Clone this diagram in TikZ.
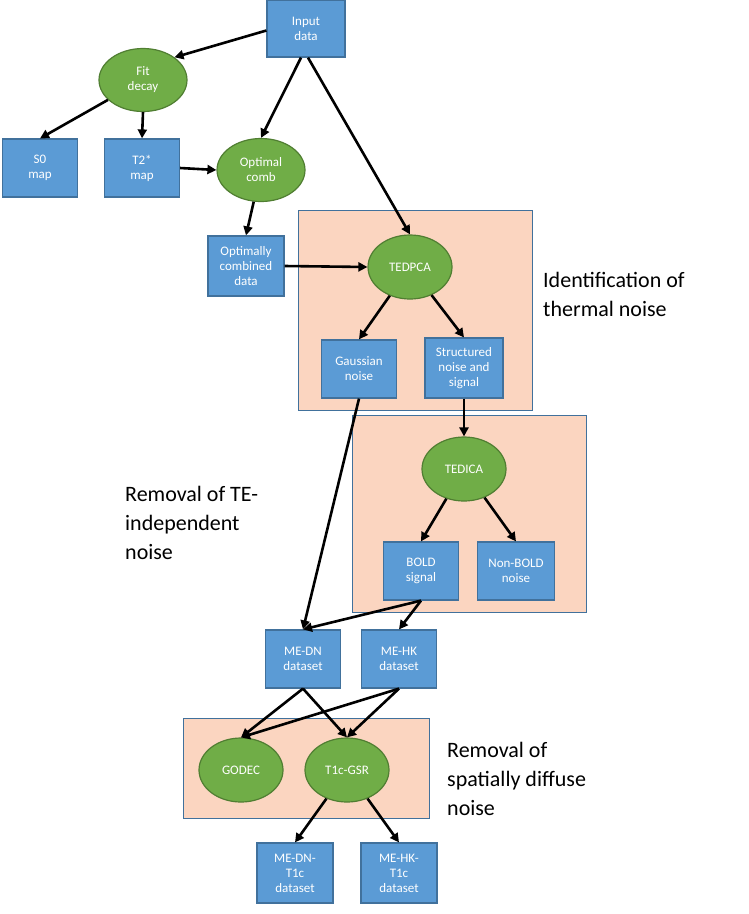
\documentclass[tikz,border=0pt]{standalone}
\usepackage{fontspec}
\setmainfont{Carlito}
\usetikzlibrary{shapes.geometric,arrows.meta}
\definecolor{bx}{HTML}{5B9BD5}
\definecolor{bxd}{HTML}{41719C}
\definecolor{gr}{HTML}{70AD47}
\definecolor{grd}{HTML}{507E32}
\definecolor{pe}{HTML}{FBD5C0}
\tikzset{
 box/.style={draw=bxd,fill=bx,line width=1.2pt,minimum width=75pt,minimum height=58pt,text=white,align=center,font=\fontsize{13}{15}\selectfont,inner sep=1pt},
 ell/.style={ellipse,draw=grd,fill=gr,line width=1.2pt,minimum width=88pt,minimum height=63pt,text=white,align=center,font=\fontsize{13}{15}\selectfont,inner sep=0pt},
 reg/.style={draw=bxd,fill=pe,line width=1pt},
 arr/.style={-{Triangle[length=9pt,width=9pt]},line width=2.6pt,black},
 lab/.style={align=left,anchor=north west,font=\fontsize{22}{29}\selectfont,inner sep=0pt}
}
\begin{document}
\begin{tikzpicture}[x=1pt,y=-1pt]
\useasboundingbox (0,0) rectangle (749,914);
\draw[reg] (298,210) rectangle (532,410);
\draw[reg] (352,415) rectangle (586,612);
\draw[reg] (183,718) rectangle (429,818);
\node[box,minimum width=78pt,minimum height=57pt] (in) at (306,28.5) {Input\\data};
\node[ell] (fit) at (143,80) {Fit\\decay};
\node[box] (s0) at (40,168) {S0\\map};
\node[box] (t2) at (142,168) {T2*\\map};
\node[ell] (oc) at (261,170) {Optimal\\comb};
\node[box,minimum width=76pt,minimum height=60pt] (ocd) at (246,266) {Optimally\\combined\\data};
\node[ell,minimum width=84pt,minimum height=64pt] (pca) at (410,267) {TEDPCA};
\node[box] (gn) at (359,369) {Gaussian\\noise};
\node[box,minimum width=78pt,minimum height=60pt] (sn) at (464,368) {Structured\\noise and\\signal};
\node[ell,minimum width=84pt,minimum height=64pt] (ica) at (464,469) {TEDICA};
\node[box] (bold) at (421,571) {BOLD\\signal};
\node[box,minimum width=77pt] (nb) at (516,571) {Non-BOLD\\noise};
\node[box] (dn) at (303,659) {ME-DN\\dataset};
\node[box] (hk) at (399,659) {ME-HK\\dataset};
\node[ell,minimum width=84pt,minimum height=64pt] (god) at (241,770) {GODEC};
\node[ell,minimum width=84pt,minimum height=64pt] (gsr) at (347,770) {T1c-GSR};
\node[box,minimum width=76pt,minimum height=60pt] (dnt) at (295,873) {ME-DN-\\T1c\\dataset};
\node[box,minimum width=76pt,minimum height=60pt] (hkt) at (399,873) {ME-HK-\\T1c\\dataset};
\node[lab] (l1) at (543,272) {Identification of\\thermal noise};
\node[lab] (l2) at (125,486) {Removal of TE-\\independent\\noise};
\node[lab] (l3) at (447,742) {Removal of\\spatially diffuse\\noise};
\draw[arr] (in.west) ++(0,2) -- (fit.north east);
\draw[arr] (in.south) ++(-5,0) -- (oc.north);
\draw[arr] (in.south) ++(2,0) -- (pca.north);
\draw[arr] (fit) -- (s0.north);
\draw[arr] (fit.south) -- (t2.north);
\draw[arr] (t2.east) -- (oc.west);
\draw[arr] (oc) -- (ocd.north);
\draw[arr] (ocd.east) -- (pca.west);
\draw[arr] (pca) -- (gn.north);
\draw[arr] (pca) -- (sn.north);
\draw[arr] (sn.south) -- (ica.north);
\draw[arr] (ica) -- (bold.north);
\draw[arr] (ica) -- (nb.north);
\draw[arr] (gn.south) -- (dn.north);
\draw[arr] (bold.south) -- (dn.north);
\draw[arr] (bold.south) -- (hk.north);
\draw[arr] (dn.south) -- (god.north);
\draw[arr] (dn.south) -- (gsr.north);
\draw[arr] (hk.south) -- (god.north);
\draw[arr] (hk.south) -- (gsr.north);
\draw[arr] (gsr) -- (dnt.north);
\draw[arr] (gsr) -- (hkt.north);
\end{tikzpicture}
\end{document}
